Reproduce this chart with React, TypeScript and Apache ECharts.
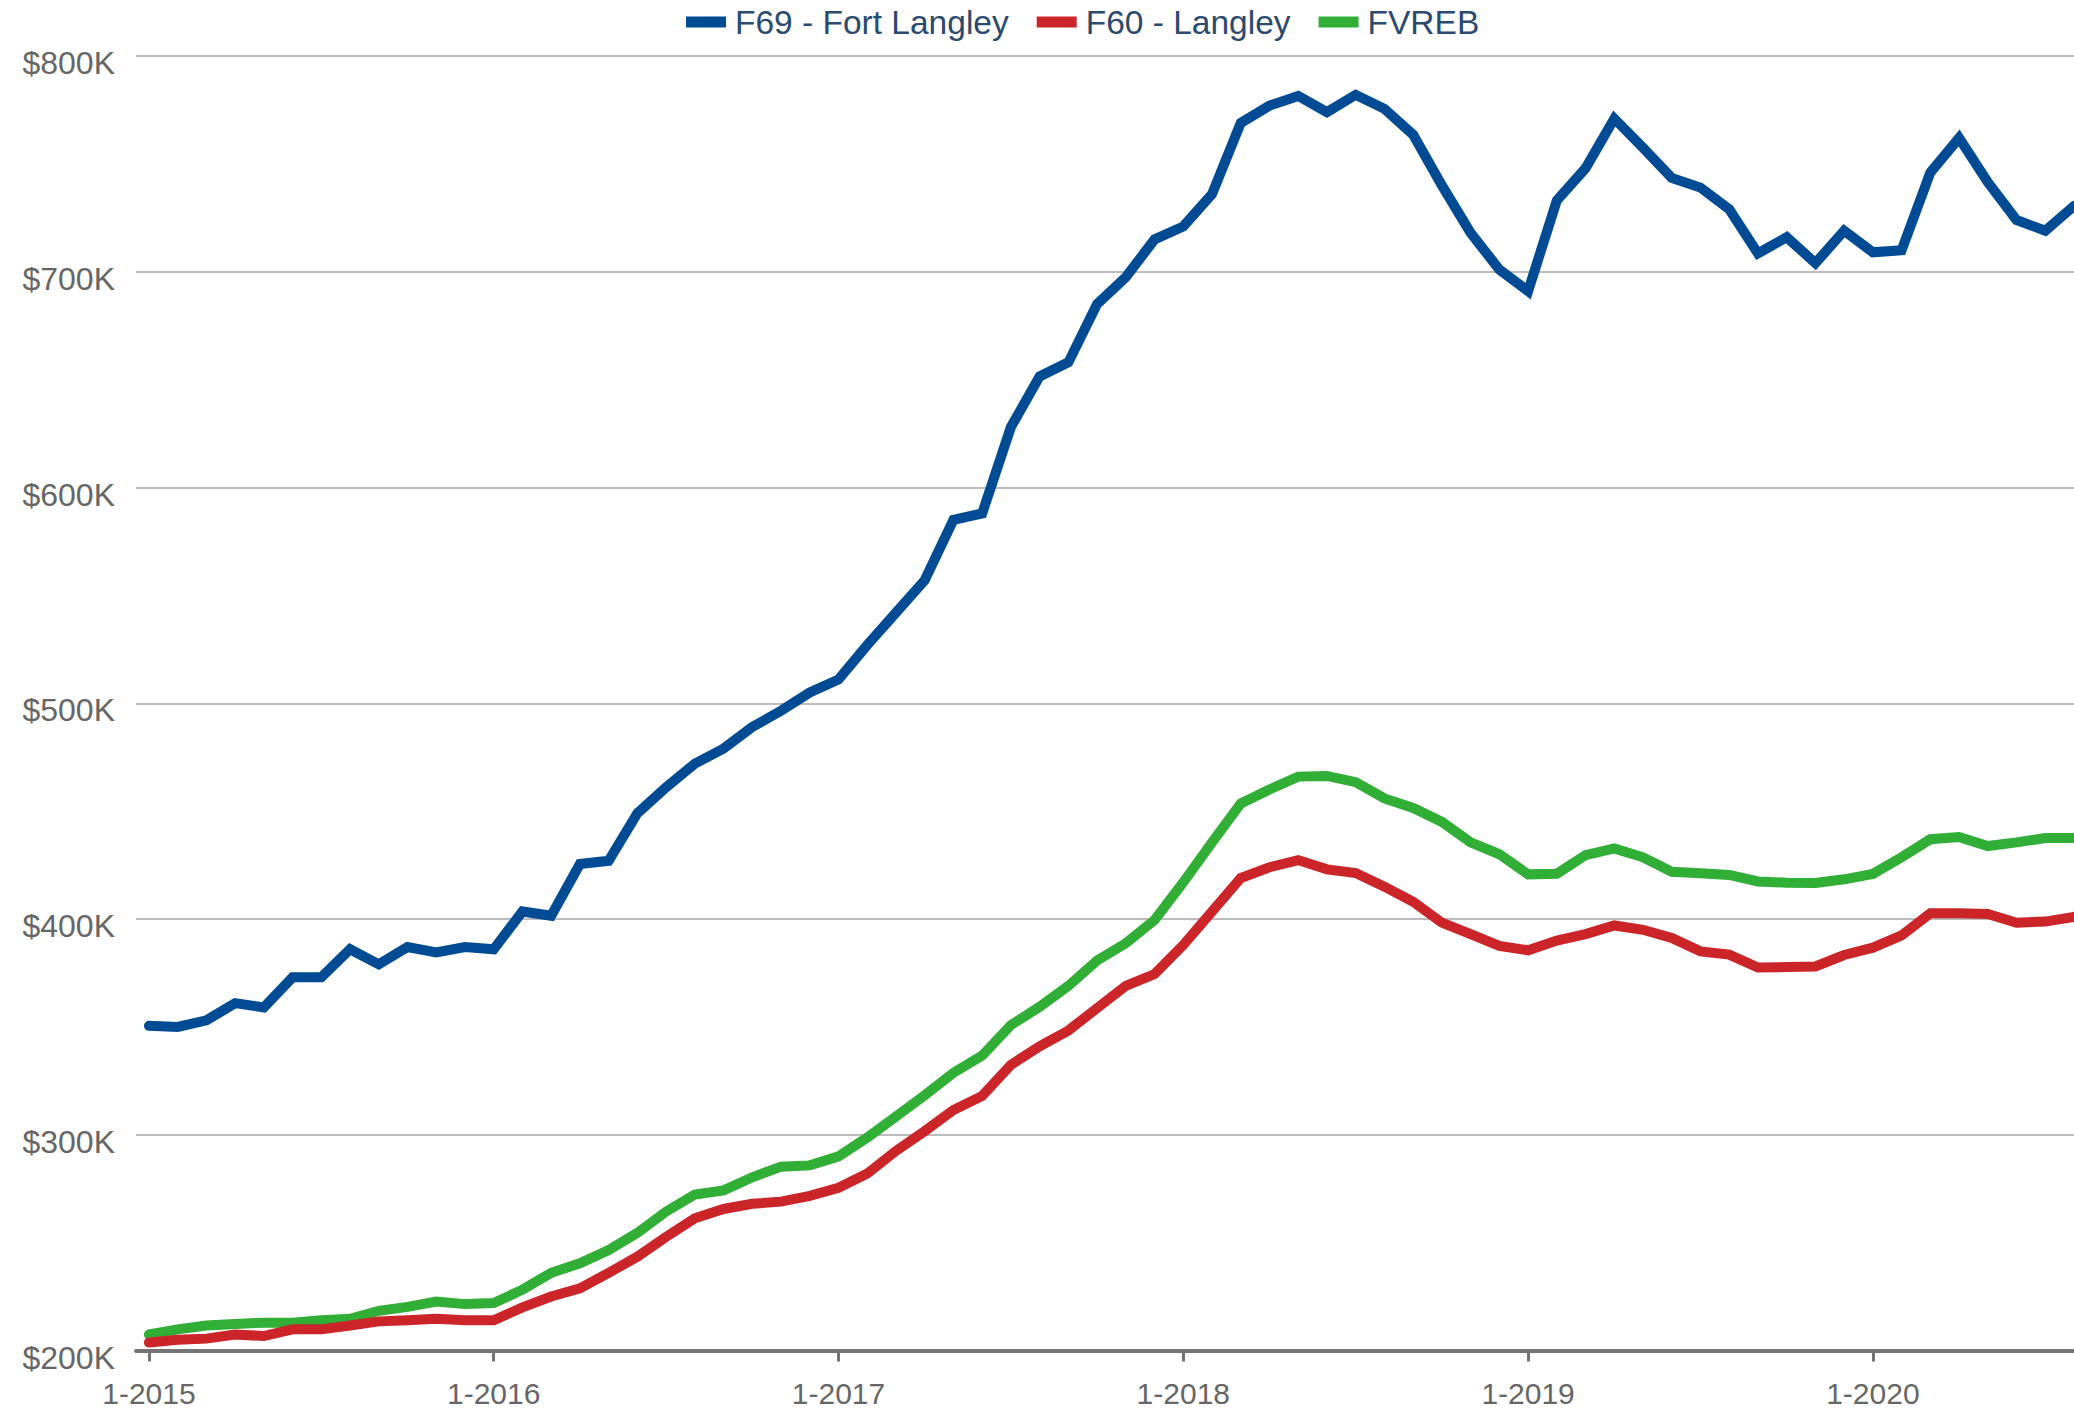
import React, { useEffect, useRef } from "react";
import * as echarts from "echarts";

// Monthly values in $K, starting 1-2015 (index 0) through 8-2020 (index 67)
const startYear = 2015;
const xTickMonths = [0, 12, 24, 36, 48, 60];
const yTicks = [200, 300, 400, 500, 600, 700, 800];

const fortLangley = [
  350.5, 350, 353, 361, 359, 373, 373, 386, 379, 387, 384.5, 387,
  386, 403.5, 401.5, 425.5, 427, 449, 461, 472, 479, 489, 496.5, 505,
  511, 527, 542, 557, 585, 588, 628, 651.5, 658, 685, 697.5, 715,
  721, 736, 769, 777, 781.5, 774, 782, 775.5, 763.5, 740, 718, 701,
  691, 733, 748, 771, 757.5, 743.5, 739, 729, 708.5, 716, 704, 719,
  709, 710, 746, 762, 741.5, 724, 719, 730.5,
];

const langley = [
  203.7, 205, 205.5, 207.4, 206.7, 209.8, 209.8, 211.6, 213.5, 214, 214.7, 214,
  214, 220, 225, 228.8, 236, 243.5, 252.7, 261.3, 265.6, 268, 269, 271.7,
  275.4, 282, 292.5, 301.7, 311.5, 318, 332.4, 341, 348.3, 358.7, 369, 374.5,
  388, 403.5, 419, 424, 427.3, 423, 421.3, 415, 408, 398.3, 393, 387.5,
  385.5, 390, 393, 397, 395, 391.2, 385, 383.5, 377.5, 377.7, 378, 383.3,
  386.7, 392.4, 402.7, 402.7, 402.3, 398.3, 398.8, 401,
];

const fvreb = [
  207.4, 209.8, 211.6, 212.3, 212.9, 212.9, 214, 214.7, 218.4, 220.2, 222.7, 221.5,
  222, 228.2, 236, 240.4, 246.6, 254.5, 264.4, 272.3, 274.2, 280.3, 285.2, 285.8,
  290, 298.7, 308.5, 318.3, 328.7, 336.7, 350.8, 359.3, 369, 380.8, 388.8, 399.5,
  417, 435.5, 453.5, 460, 466, 466.3, 463.4, 455.9, 451.5, 445, 435.5, 430,
  420.7, 421, 429.6, 432.7, 428.6, 421.9, 421.2, 420.4, 417.4, 416.8, 416.7, 418.4,
  420.9, 428.6, 437, 438, 433.8, 435.5, 437.5, 437.5,
];

const seriesNames = ["F69 - Fort Langley", "F60 - Langley", "FVREB"];
const seriesColors = ["#004b93", "#cc2529", "#31ae36"];
const seriesData = [fortLangley, langley, fvreb];

export default function App() {
  const ref = useRef<HTMLDivElement>(null);

  useEffect(() => {
    if (!ref.current) return;
    const chart = echarts.init(ref.current, undefined, { renderer: "svg" });
    const font = "'Liberation Sans', Arial, sans-serif";
    chart.setOption({
      animation: false,
      backgroundColor: "#ffffff",
      textStyle: { fontFamily: font },
      legend: {
        left: 681,
        top: 0,
        icon: "rect",
        itemWidth: 40,
        itemHeight: 11,
        itemGap: 28,
        data: seriesNames,
        textStyle: {
          fontSize: 33.5,
          color: "#2c4a6e",
          fontFamily: font,
          padding: [0, 0, 0, 4],
        },
      },
      grid: { left: 136, right: 0, top: 56, bottom: 58.5, containLabel: false },
      xAxis: {
        type: "value",
        min: -0.45,
        max: 67,
        splitLine: { show: false },
        axisLine: { show: true, lineStyle: { color: "#747474", width: 4 } },
        axisTick: {
          show: true,
          customValues: xTickMonths,
          length: 11,
          lineStyle: { color: "#747474", width: 3 },
        },
        axisLabel: {
          customValues: xTickMonths,
          formatter: (v: number) => `1-${startYear + Math.round(v / 12)}`,
          fontSize: 30,
          color: "#666666",
          margin: 28,
          fontFamily: font,
        },
      },
      yAxis: {
        type: "value",
        min: yTicks[0],
        max: yTicks[yTicks.length - 1],
        interval: 100,
        axisLine: { show: false },
        axisTick: { show: false },
        splitLine: { lineStyle: { color: "#bdbdbd", width: 2 } },
        axisLabel: {
          formatter: (v: number) => `$${v}K`,
          fontSize: 32,
          color: "#666666",
          margin: 21,
          verticalAlign: "top",
          lineHeight: 14,
          fontFamily: font,
        },
      },
      series: seriesNames.map((name, k) => ({
        name,
        type: "line",
        showSymbol: false,
        symbol: "none",
        color: seriesColors[k],
        lineStyle: { width: 10, color: seriesColors[k], cap: "round", join: "miter" },
        data: seriesData[k].map((v, i) => [i, v]),
        z: 3 - k,
      })),
    });
    return () => chart.dispose();
  }, []);

  return (
    <div
      ref={ref}
      style={{ position: "fixed", left: 0, top: 0, width: 2074, height: 1409 }}
    />
  );
}
